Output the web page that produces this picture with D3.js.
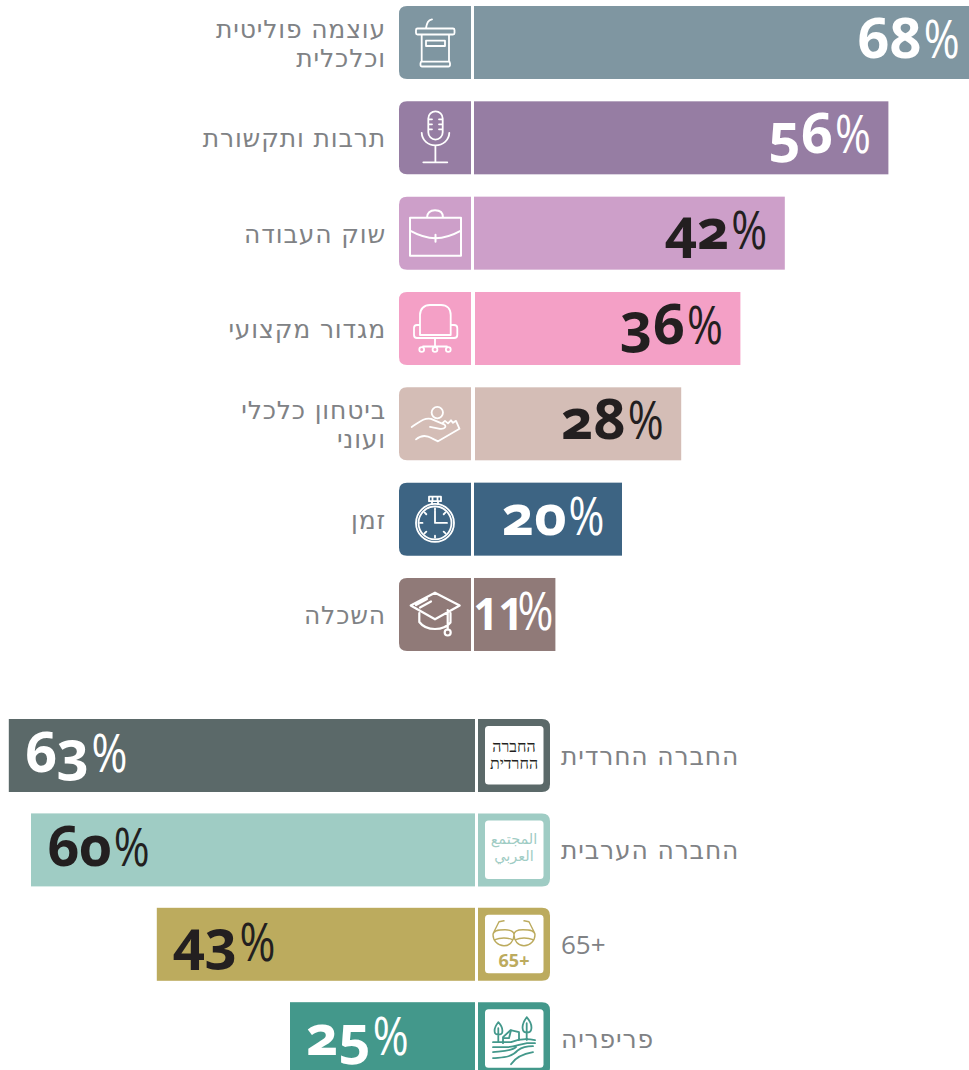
<!DOCTYPE html>
<html><head><meta charset="utf-8">
<script src="https://cdnjs.cloudflare.com/ajax/libs/d3/7.8.5/d3.min.js"></script>
<style>
html,body{margin:0;padding:0;background:#fff;overflow:hidden}
svg{display:block}
.lab{font-family:"DejaVu Sans",sans-serif;font-size:25px;letter-spacing:.85px;fill:#808285;direction:rtl}
.lab.plain{font-family:"Open Sans",sans-serif;font-size:26px;letter-spacing:0}
.num{font-family:"Open Sans",sans-serif;font-weight:700;font-size:56px;font-variant-numeric:oldstyle-nums;font-feature-settings:"onum" 1}
.pct{font-family:"Open Sans",sans-serif;font-weight:400;font-size:53px}
.ic{fill:none;stroke:#fff;stroke-width:1.8;stroke-linecap:round;stroke-linejoin:round}
</style></head><body><div id="chart"></div>
<script>
// top group
const topCategories=[["עוצמה פוליטית","וכלכלית"],["תרבות ותקשורת"],["שוק העבודה"],["מגדור מקצועי"],["ביטחון כלכלי","ועוני"],["זמן"],["השכלה"]];
const topValues=[68,56,42,36,28,20,11];
const topColors=["#7f96a1","#967da3","#cd9fc9","#f4a0c6","#d4bdb6","#3d6483","#907a78"];
const topInk=["#fff","#fff","#231f20","#231f20","#231f20","#fff","#fff"];
const topIcons=["podium","mic","case","chair","hand","watch","cap"];
// bottom group
const botCategories=["החברה החרדית","החברה הערבית","+65","פריפריה"];
const botValues=[63,60,43,25];
const botColors=["#5b6969","#9fccc4","#bcab5e","#43988b"];
const botInk=["#fff","#231f20","#231f20","#fff"];
const botIcons=["haredi","arab","old","farm"];

const W=969,H=1070,BH=73,BOX=72,PW=35.5,PSX=0.82;
const svg=d3.select("#chart").append("svg").attr("width",W).attr("height",H);
const xTop=d3.scaleLinear().domain([0,100]).range([474,474+740]);
const xBot=d3.scaleLinear().domain([0,100]).range([475,475-740]);
const yTop=d3.scaleBand().domain(d3.range(topValues.length)).range([6,6+95.33*6+73]).paddingInner(1-73/95.33).paddingOuter(0);
const yBot=d3.scaleBand().domain(d3.range(botValues.length)).range([719,719+94.4*3+73]).paddingInner(1-73/94.4).paddingOuter(0);

function roundL(w,h,r){return `M${r} 0H${w}V${h}H${r}Q0 ${h} 0 ${h-r}V${r}Q0 0 ${r} 0Z`}
function roundR(w,h,r){return `M0 0H${w-r}Q${w} 0 ${w} ${r}V${h-r}Q${w} ${h} ${w-r} ${h}H0Z`}

const icons={
 podium(g){g.append("path").attr("d","M18.5 22.5H54a1.5 1.5 0 0 1 1.5 1.5V27a1.5 1.5 0 0 1-1.5 1.5H18.5a1.5 1.5 0 0 1-1.5-1.5V24a1.5 1.5 0 0 1 1.5-1.5ZM22.7 28.5V55.5M50 28.5V55.5M27 34.7H46V40H27ZM23 55.7H49.5a1.5 1.5 0 0 1 1.5 1.5V59a1.5 1.5 0 0 1-1.5 1.5H23a1.5 1.5 0 0 1-1.5-1.5V57.2a1.5 1.5 0 0 1 1.5-1.5ZM27 22C28 17 29 14 33 13.3");},
 mic(g){g.append("path").attr("d","M36.5 10A7.2 7.2 0 0 1 43.7 17.2V31A7.2 7.2 0 0 1 29.3 31V17.2A7.2 7.2 0 0 1 36.5 10ZM29.3 18H33M29.3 23H33M29.3 28H33M40 18H43.7M40 23H43.7M40 28H43.7M22.7 31.5C23 39 29 44 36.4 44C44 44 50 39 50.3 31.5M36.4 44V61M24.3 61H48.3");},
 case(g){g.append("path").attr("d","M11 21H62V59H11ZM11 34C20 39 28 41.5 36.5 41.5C45 41.5 53 39 62 34M28 21C28 16 31 13.7 36 13.7C41 13.7 44 16 44 21M36.5 38V45").attr("stroke-width",2);},
 chair(g){g.append("path").attr("d","M21 43V23C21 17 25 13 31 13H42C48 13 51.7 17 51.7 23V43ZM21 33H18C16 33 15 34 15 36V43C15 45 16 46 18 46H55C57 46 58.3 45 58.3 43V36C58.3 34 57 33 55 33H51.7M36 46V54.5M24 54.5H48");
   g.selectAll("circle").data([22.7,36,49.3]).join("circle").attr("cx",d=>d).attr("cy",57.5).attr("r",2.4);},
 hand(g){g.append("circle").attr("cx",38.3).attr("cy",25.3).attr("r",5.7);
   g.append("path").attr("d","M12.7 39.7C20 35 25 30 32 31.5L45 37C48 39 46 42 41 41.5L31 39.5M17 52C23 47 28 48 33 51L39 54L60.5 41.5L57 33.5L54 35.5L52 33L49 36L46 33.5L43 36");},
 watch(g){g.append("circle").attr("cx",36).attr("cy",40.3).attr("r",19);g.append("circle").attr("cx",36).attr("cy",40.3).attr("r",16.5);
   g.append("path").attr("d","M30 14H42V18.5H30ZM33 18.5V21.5M39 18.5V21.5M33.5 14V18.5M38.5 14V18.5M36 28.6V40.3H48M36 25.5V27.5M36 53V55M21 40.3H23.5M25.5 29.8L27.3 31.6M46.5 29.8L44.7 31.6M25.5 50.8L27.3 49M46.5 50.8L44.7 49");},
 cap(g){g.append("path").attr("d","M36 14.7L60.7 27.5L36 41.3L11.7 27.5ZM20.3 35V44C24 49 30 51 36 51C42 51 48 49 51.5 44.5V35M48.7 32V51.5M17 27L28 21M21 29.5L32 23.5").attr("stroke-width",2.2);
   g.append("circle").attr("cx",48.7).attr("cy",54.5).attr("r",3).attr("stroke-width",2.2);},
 haredi(g,c){inner(g);[["החברה",33],["החרדית",50]].forEach(t=>g.append("text").attr("x",36).attr("y",t[1]).attr("text-anchor","middle").attr("fill","#231f20").style("direction","rtl").style("font-family","'Liberation Serif',serif").style("font-size","16px").text(t[0]));},
 arab(g,c){inner(g);[["المجتمع",31],["العربي",48]].forEach(t=>g.append("text").attr("x",36).attr("y",t[1]).attr("text-anchor","middle").attr("fill",c).style("direction","rtl").style("font-family","'DejaVu Sans',sans-serif").style("font-size","14.5px").text(t[0]));},
 old(g,c){inner(g);const h=g.append("g").attr("class","ic").style("stroke",c).style("stroke-width",1.4);
   h.append("path").attr("d","M15 27C15 23 19 22 27 22C33 22 36 24 36 27C36 24 39 22 45 22C53 22 57 23 57 27C57 33 52 38 46 38C40 38 36 33 36 27C36 33 32 38 26 38C20 38 15 33 15 27ZM16 32C22 30 30 30 35 32M37 32C42 30 50 30 56 32M15.5 25L21 14L26 13M56.5 25L51 14L46 13");
   g.append("text").attr("x",36).attr("y",59).attr("text-anchor","middle").attr("fill",c).style("font-family","'Open Sans',sans-serif").style("font-weight",700).style("font-size","18px").style("direction","rtl").text("+65");},
 farm(g,c){inner(g);const h=g.append("g").attr("class","ic").style("stroke",c);
   h.append("path").attr("d","M20.3 20C17 24 16 28 17 31C18 33 23 33 24 31C25 28 24 24 20.3 20ZM20.3 26V40M48.7 15C45 20 44 25 45 28C46 31 52 31 53 28C54 25 53 20 48.7 15ZM48.7 21V38M25 35L32.5 28L41 30V38M25 35V41M33 28L31 36L25 36M15 40H33C40 37 48 36 57 38M15 45H28C36 45 42 42 49 41L57 41M15 50C24 49 34 49 38 45M15 56C24 55 33 56 40 48C44 45 49 44 55 44M33 62C37 56 43 52 55 50");}
};
function inner(g){g.append("rect").attr("x",7).attr("y",7).attr("width",58.5).attr("height",58.5).attr("rx",3.5).attr("fill","#fff");}

// draws "NN%" with the digits starting at x; the % is condensed to its drawn shape
function label(g,v,x,y,ink,rightEdge){
  const t=g.append("text").attr("class","num").attr("fill",ink).attr("y",y).text(v);
  if(v===11) t.style("font-feature-settings",'"lnum" 1').style("font-variant-numeric","lining-nums").style("font-size","44px");
  const w=t.node().getComputedTextLength();
  const gap=v===11?-6:2;
  const left=rightEdge!=null?rightEdge-PW-gap-w:x;
  t.attr("x",left);
  g.append("text").attr("class","pct").attr("fill",ink)
    .attr("transform",`translate(${left+w+gap},${y}) scale(${PSX},1)`).text("%");
}

topValues.forEach((v,i)=>{
  const y=yTop(i),g=svg.append("g");
  const bx=(v>=28&&v<=36)?xTop(0)+1:xTop(0);
  g.append("rect").attr("x",bx).attr("y",y).attr("width",xTop(v)-bx).attr("height",yTop.bandwidth()).attr("fill",topColors[i]);
  g.append("path").attr("transform",`translate(399,${y})`).attr("d",roundL(BOX,BH,8)).attr("fill",topColors[i]);
  const ic=g.append("g").attr("transform",`translate(399,${y})`).attr("class","ic");
  icons[topIcons[i]](ic,topColors[i]);
  const lines=topCategories[i];
  const ty=y+(lines.length==1?46:32);
  lines.forEach((s,k)=>g.append("text").attr("class","lab").attr("x",386).attr("y",ty+k*29).attr("text-anchor","start").text(s));
  label(g,v,0,y+52,topInk[i],Math.max(xTop(v)-18,xTop(0)+79));
});
botValues.forEach((v,i)=>{
  const y=yBot(i),g=svg.append("g");
  g.append("rect").attr("x",xBot(v)).attr("y",y).attr("width",xBot(0)-xBot(v)).attr("height",yBot.bandwidth()).attr("fill",botColors[i]);
  g.append("path").attr("transform",`translate(478,${y})`).attr("d",roundR(BOX,BH,8)).attr("fill",botColors[i]);
  const ic=g.append("g").attr("transform",`translate(478,${y})`);
  icons[botIcons[i]](ic,botColors[i]);
  g.append("text").attr("class","lab"+(botIcons[i]==="old"?" plain":"")).attr("x",561).attr("y",y+46).attr("text-anchor","end").text(botCategories[i]);
  label(g,v,xBot(v)+16,y+53,botInk[i]);
});
</script></body></html>
